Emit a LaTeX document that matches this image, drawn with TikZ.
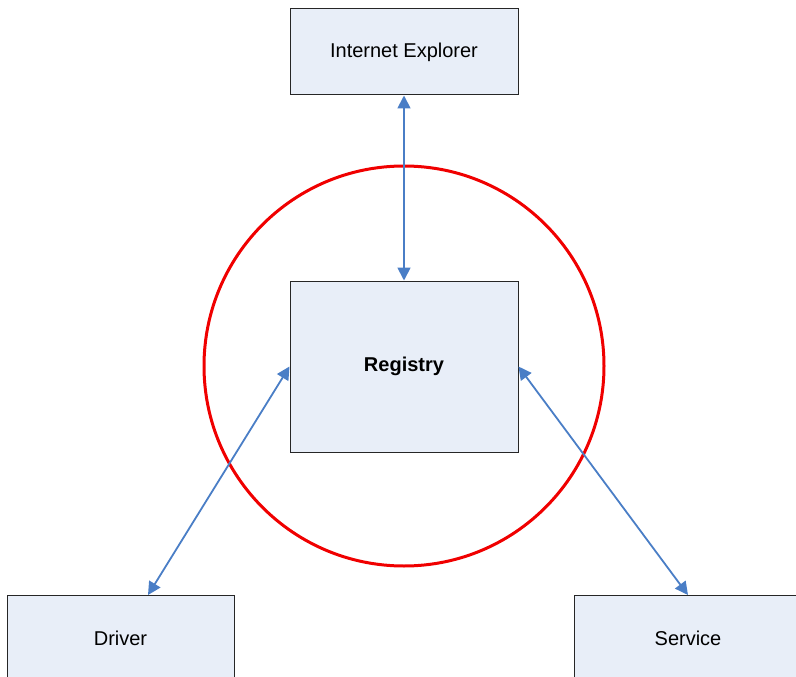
\documentclass[tikz,border=0pt]{standalone}
\usepackage{fontspec}
\setmainfont{Liberation Sans}
\usetikzlibrary{arrows.meta}
\definecolor{boxfill}{HTML}{E8EEF8}
\definecolor{arrowblue}{HTML}{4A7EC6}
\definecolor{ringred}{HTML}{F00000}
\begin{document}
\begin{tikzpicture}[x=1pt,y=-1pt,
  box/.style={draw=black!85,line width=1pt,fill=boxfill,inner sep=0pt,
    font=\fontsize{20}{24}\selectfont},
  link/.style={draw=arrowblue,line width=1.8pt,
    {Triangle[length=13pt,width=13pt]}-{Triangle[length=13pt,width=13pt]},shorten <=0pt,shorten >=0pt}]
\useasboundingbox (0,0) rectangle (796,677);
\draw[ringred,line width=3pt] (404,366) circle[radius=200];
\node[box,minimum width=228pt,minimum height=86pt] (ie) at (404,52) {Internet Explorer};
\node[box,minimum width=228pt,minimum height=171pt,font=\fontsize{20}{24}\selectfont\bfseries] (reg) at (404,366.5) {Registry};
\path[box] (7,595) rectangle (234,700);
\node[font=\fontsize{20}{24}\selectfont] (drv) at (120.5,638) {Driver};
\path[box] (574,595) rectangle (810,700);
\node[font=\fontsize{20}{24}\selectfont] (svc) at (688,638) {Service};
\coordinate (drvtop) at (148,595);
\coordinate (svctop) at (688,595);
\draw[link] (ie.south) -- (reg.north);
\draw[link] (reg.west) -- (drvtop);
\draw[link] (reg.east) -- (svctop);
\end{tikzpicture}
\end{document}
